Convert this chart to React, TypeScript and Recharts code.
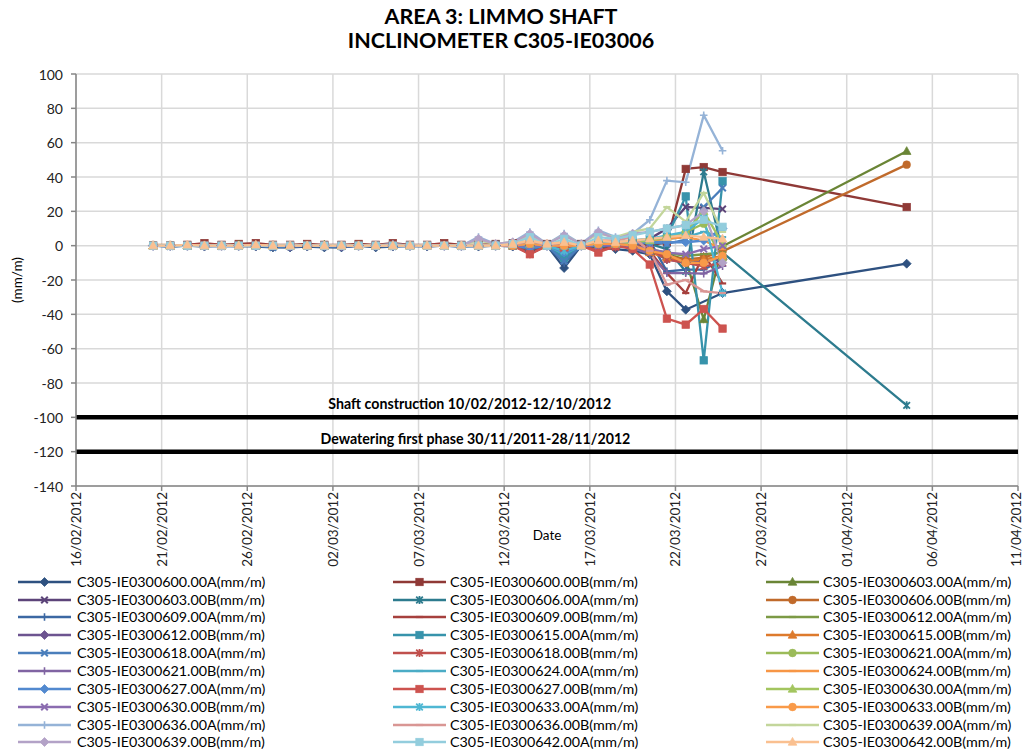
import React from 'react';
import { LineChart, Line, XAxis, YAxis, CartesianGrid, ReferenceLine } from 'recharts';

// x positions: days since 16/02/2012
const dayOffsets = [
  4.5, 5.5, 6.5, 7.5, 8.5, 9.5, 10.5, 11.5, 12.5, 13.5, 14.5, 15.5, 16.5, 17.5, 18.5, 19.5, 20.5, 21.5, 22.5, 23.5,
  24.5, 25.5, 26.5, 27.5, 28.5, 29.5, 30.5, 31.5, 32.5, 33.5, 34.5,
  35.6, 36.65, 37.75, 48.5,
];

const xTickDays = [0, 5, 10, 15, 20, 25, 30, 35, 40, 45, 50, 55];
const xTickLabels = [
  '16/02/2012', '21/02/2012', '26/02/2012', '02/03/2012', '07/03/2012', '12/03/2012',
  '17/03/2012', '22/03/2012', '27/03/2012', '01/04/2012', '06/04/2012', '11/04/2012',
];
const yTicks = [-140, -120, -100, -80, -60, -40, -20, 0, 20, 40, 60, 80, 100];

const s600A = [0, 0, 0, -0.5, 0, 0, -0.5, -1, -1, -0.5, -1, -1, 0, -1, -0.5, 0, -0.5, 0, 0, -0.5, 0, -0.5, -3, 0, -13, 0, -1, -2, -3, -5, -26.6, -37.3, null, -27.6, -10.5];
const s600B = [0, 0, 0.5, 1.5, 0.5, 1, 1.5, 0.5, 0.5, 1, 0.5, 0.5, 1, 0.5, 1.5, 0.5, 0.5, 1.5, 0.5, 0.5, 1, 1.5, 1, 1, 0, 1, 0, 1, 2, 0, 2, 44.7, 45.8, 42.9, 22.5];
const s603A = [0, 0, 0, 0, 0, 0.5, 0, 0, 0, 0, 0.5, 0, 0, 0, 0, 0, 0, 0, 0, 0, 0, 0, 1, 0, 0, 0, 1, 0, -1, -3, -5, -8, -43, -0.4, 55];
const s603B = [0, 0, 0, 0, 0, 0, 0, 0, -0.5, 0, 0, 0, 0, 0, 0, 0, 0, 0, 0, 0, 0, 0, 0, 0, -1, 0, 0, 1, 2, 4, 10, 22.5, 22, 21.3, null];
const s606A = [0, 0, 0, 0, 0, 0, 0, 0, 0, 0, 0, 0, 0, 0, 0, 0, 0, 0, 0, 0, 0, 0, -2, 0, -7, 0, -1, 0, 2, 1, -2, -15, 43, -4, -93];
const s606B = [0.5, 0.5, 0, 0.5, 0, 0, 0, 0.5, 0, 0.5, 0, 0, 0.5, 0, 0, 0, 0, 0, 0, 0.5, 0, 0.5, 1, 0.5, 0, 0.5, 1, 1, 0, -3, -6, -8, -7, -3.3, 47.2];
const s609A = [0, -0.5, 0, 0, 0, -0.5, 0, -0.5, -1, 0, -0.5, -1, 0, -0.5, 0, -0.5, 0, 0, -0.5, 0, 0, 0, -2, 0, -10, 0, 0, 1, 2, 3, -15, -14, -14, -8, null];
const s609B = [0, 0, 0.5, 1, 0.5, 0.5, 1, 0, 0, 0.5, 0, 0, 0.5, 0, 1, 0, 0.5, 1, 0, 0.5, 0, 1, -4, 0, -3, 0, -3, 0, 2, -3, -16, -27.6, -5, -22, null];
const s612A = [0, 0, 0, 0, 0, 0, 0, 0, 0, 0, 0, 0, 0, 0, 0, 0, 0, 0, 0, 0, 0, 0, 0.5, 0, -2, 0, 0, 1, 0, -2, -4, -6, -5, -4, null];
const s612B = [0, 0, 0, 0, 0, 0, 0, 0, -0.5, 0, 0, -0.5, 0, 0, 0, 0, 0, 0, 0, 0, 0, 0, 0, 0, -2, 0, 0, 0, -1, -3, -8, -10, -9, -8, null];
const s615A = [0, 0, 0, 0, 0, 0, 0, 0, 0, 0, 0, 0, 0, 0, 0, 0, 0, 0, 0, 0, 0.5, 0, -1, 0.5, -7, 0.5, 1, 1, 3, 4, 5, 28.7, -66.8, 37.5, null];
const s615B = [0, 0, 0, 0, 0, 0, 0, 0, 0, 0, 0, 0, 0, 0, 0, 0, 0, 0, 0, 0, 0, 0, 0.5, 0, -1, 0, 0, 1, 0, -4, -7, -9, -8, -6, null];
const s618A = [0, -0.5, 0, 0, -0.5, 0, 0, -1, -0.5, 0, -0.5, -0.5, 0, 0, -0.5, 0, 0, 0, -0.5, 0, 0, 0, -2, 0, -9, 0, 0, 0, 1, 2, 1, 3.5, 22.5, 33.6, null];
const s618B = [0, 0, 0, 0.5, 0, 0, 0.5, 0, 0, 0, 0, 0, 0, 0, 0.5, 0, 0, 0.5, 0, 0, 0, 0.5, -5, 0, -2, 0, -3, -1, 0, -2, -8, -10, -12, -10, null];
const s621A = [0, 0, 0, 0, 0, 0, 0, 0, 0, 0, 0, 0, 0, 0, 0, 0, 0, 0, 0, 0.5, 0, 0, 1, 0, 0, 0, 1, 1, 2, 3, 5, 8, 12.8, -8, null];
const s621B = [0, 0, 0, 0, 0, 0, 0, 0, 0, 0, 0, 0, 0, 0, 0, 0, 0, 0, 0, 0, 0, 0, 0, 0, -1, 0, 0, 0, -1, -5, -16, -16, -16.3, -12, null];
const s624A = [0, 0, 0, 0, 0, 0, 0, 0, 0, 0, 0, 0, 0, 0, 0, 0, 0, 0, 0, 0, 0, 0, -1, 0, -5, 0, 0, 1, 2, 3, 4, 5, 8, 5, null];
const s624B = [0, 0, 0, 0, 0, 0, 0, 0, 0, 0, 0, 0, 0, 0, 0, 0, 0, 0, 0, 0, 0, 0, 1, 0, 0, 0, 1, 1, 2, 3, 4, 5, 3, -2, null];
const s627A = [0, 0, 0, 0, 0, 0, 0, 0, 0, 0, 0, 0, 0, 0, 0, 0, 0, 0, 0, 0, 0, 0, -1, 0, -4, 0, 0, 1, 2, 2, 2, 2, 3, 10, null];
const s627B = [0, 0, 0, 0, 0, 0, 0, 0, 0, 0, 0, 0, 0, 0, 0, 0, 0, 0, 0, 0, 0, 0, -5, 0, -1, 0, -4, 0, -2, -11, -42.5, -46, -36.9, -48.3, null];
const s630A = [0, 0, 0, 0, 0, 0, 0, 0, 0, 0, 0, 0, 0, 0, 0, 0, 0, 0, 0, 0, 0, 0, 1, 0, 0, 0, 2, 1, 2, 3, 5, 8, 20, 1, null];
const s630B = [0, 0, 0, 0, 0, 0, 0, 0, 0, 0, 0, 0, 0, 0, 0, 0, 0, 0, 0, 0, 0, 0, 0, 0, 0, 0, 0, 1, 0, -2, -4, -5, -2, 0, null];
const s633A = [0, 0, 0, 0, 0, 0, 0, 0, 0, 0, 0, 0, 0, 0, 0, 0, 0, 0, 0, 0, 0, 0, 1, 0, -3, 0, 1, 2, 3, 4, 6, 8, 16, -27.6, null];
const s633B = [0, 0, 0, 0, 0, 0, 0, 0, 0, 0, 0, 0, 0, 0, 0, 0, 0, 0, 0, 0, 0, 0, 1, 0, 0, 0, 1, 1, 0, -3, -5, -10, -10, -6, null];
const s636A = [0, 0, 0, 0, 0, 0, 0, 0, 0, 0, 0, 0, 0.5, 0, 1, 0, 0, 0, 0, 5, 1, 2, 8, 1, 7, 1, 9, 5, 7, 15, 37.9, 36.9, 76, 55.3, null];
const s636B = [0, 0, 0, 0, 0, 0, 0, 0, 0, 0, 0, 0, 0, 0, 0, 0, 0, 0, 0, 0, 0, 0, 3, 0, 2, 0, 3, 3, 5, -3, -22.7, -20, -26.6, -27.6, null];
const s639A = [0, 0, 0, 0, 0, 0, 0, 0, 0, 0, 0, 0, 0, 0, 0, 0, 0, 0, 0, 3, 1, 2, 6, 1, 6, 1, 7, 5, 8, 10, 22.5, 14, 30.7, 8, null];
const s639B = [0, 0, 0, 0, 0, 0, 0, 0, 0, 0, 0, 0, 0, 0, 0, 0, 0, 0, 0, 4, 1, 2, 7, 1, 6, 1, 8, 4, 7, 8, 10, 12, 20, -10, null];
const s642A = [0, 0, 0, 0, 0, 0, 0, 0, 0, 0, 0, 0, 0, 0, 0, 0, 0, 0, 0, 0, 0, 1, 5, 0, 4, 0, 5, 4, 6, 8, 10, 12, 15, 11, null];
const s642B = [0, 0, 0.5, 0, 0, 0, 0.5, 0, 0, 0, 0, 0, 0, 0, 0, 0, 0, 0, 0, 0, 0, 1, 3, 1, 2, 0, 3, 2, 3, 4, 5, 6, 5, 4, null];

const seriesValues = [
  s600A, s600B, s603A, s603B, s606A, s606B, s609A, s609B, s612A, s612B,
  s615A, s615B, s618A, s618B, s621A, s621B, s624A, s624B, s627A, s627B,
  s630A, s630B, s633A, s633B, s636A, s636B, s639A, s639B, s642A, s642B,
];

const seriesNames = [
  'C305-IE0300600.00A(mm/m)', 'C305-IE0300600.00B(mm/m)', 'C305-IE0300603.00A(mm/m)',
  'C305-IE0300603.00B(mm/m)', 'C305-IE0300606.00A(mm/m)', 'C305-IE0300606.00B(mm/m)',
  'C305-IE0300609.00A(mm/m)', 'C305-IE0300609.00B(mm/m)', 'C305-IE0300612.00A(mm/m)',
  'C305-IE0300612.00B(mm/m)', 'C305-IE0300615.00A(mm/m)', 'C305-IE0300615.00B(mm/m)',
  'C305-IE0300618.00A(mm/m)', 'C305-IE0300618.00B(mm/m)', 'C305-IE0300621.00A(mm/m)',
  'C305-IE0300621.00B(mm/m)', 'C305-IE0300624.00A(mm/m)', 'C305-IE0300624.00B(mm/m)',
  'C305-IE0300627.00A(mm/m)', 'C305-IE0300627.00B(mm/m)', 'C305-IE0300630.00A(mm/m)',
  'C305-IE0300630.00B(mm/m)', 'C305-IE0300633.00A(mm/m)', 'C305-IE0300633.00B(mm/m)',
  'C305-IE0300636.00A(mm/m)', 'C305-IE0300636.00B(mm/m)', 'C305-IE0300639.00A(mm/m)',
  'C305-IE0300639.00B(mm/m)', 'C305-IE0300642.00A(mm/m)', 'C305-IE0300642.00B(mm/m)',
];

const seriesColors = [
  '#2e5180', '#8f3936', '#6a8536', '#5c4479', '#2d7b8e', '#c06a2b',
  '#3c68a3', '#a6403d', '#7c9a45', '#6d5490', '#3793ab', '#dd7a2c',
  '#4a7ebb', '#c0504d', '#9bbb59', '#8064a2', '#4bacc6', '#f79646',
  '#5289cf', '#cd534f', '#a3c55f', '#8b6cb0', '#4fb7d3', '#f99a49',
  '#95b3d7', '#d99694', '#c3d69b', '#b3a2c7', '#93cddd', '#fac090',
];

const markerCycle = ['diamond', 'square', 'triangle', 'x', 'star', 'circle', 'plus', 'dash', 'dash'];

const refLines = [
  { y: -100, text: 'Shaft construction 10/02/2012-12/10/2012', frac: 0.418 },
  { y: -120, text: 'Dewatering first phase 30/11/2011-28/11/2012', frac: 0.424 },
];

const chartData = dayOffsets.map((d, i) => {
  const row: any = { day: d };
  seriesValues.forEach((arr, k) => {
    row['s' + k] = arr[i];
  });
  return row;
});

const FONT = 'Lato, "Liberation Sans", sans-serif';

function Marker({ cx, cy, shape, color }: { cx: number; cy: number; shape: string; color: string }) {
  switch (shape) {
    case 'diamond':
      return <polygon points={`${cx},${cy - 4.5} ${cx + 4.5},${cy} ${cx},${cy + 4.5} ${cx - 4.5},${cy}`} fill={color} stroke={color} strokeWidth={0.75} />;
    case 'square':
      return <rect x={cx - 3.7} y={cy - 3.7} width={7.4} height={7.4} fill={color} stroke={color} strokeWidth={0.75} />;
    case 'triangle':
      return <polygon points={`${cx},${cy - 4.6} ${cx + 4.3},${cy + 3.2} ${cx - 4.3},${cy + 3.2}`} fill={color} stroke={color} strokeWidth={0.75} />;
    case 'x':
      return <path d={`M${cx - 3.3},${cy - 3.3}L${cx + 3.3},${cy + 3.3}M${cx - 3.3},${cy + 3.3}L${cx + 3.3},${cy - 3.3}`} stroke={color} strokeWidth={2} fill="none" />;
    case 'star':
      return <path d={`M${cx - 3.3},${cy - 3.3}L${cx + 3.3},${cy + 3.3}M${cx - 3.3},${cy + 3.3}L${cx + 3.3},${cy - 3.3}M${cx},${cy - 4}L${cx},${cy + 4}`} stroke={color} strokeWidth={1.8} fill="none" />;
    case 'circle':
      return <circle cx={cx} cy={cy} r={3.9} fill={color} stroke={color} strokeWidth={0.5} />;
    case 'plus':
      return <path d={`M${cx - 3.8},${cy}L${cx + 3.8},${cy}M${cx},${cy - 3.8}L${cx},${cy + 3.8}`} stroke={color} strokeWidth={1.6} fill="none" />;
    case 'dash':
    default:
      return <rect x={cx - 3.6} y={cy - 1.1} width={7.2} height={2.2} fill={color} />;
  }
}

const makeDot = (shape: string, color: string) => (p: any) => {
  const { cx, cy, index, value } = p;
  if (cx == null || cy == null || value == null || Number.isNaN(cx) || Number.isNaN(cy)) {
    return <g key={`e${index}`} />;
  }
  return (
    <g key={`m${index}`}>
      <Marker cx={cx} cy={cy} shape={shape} color={color} />
    </g>
  );
};

const DateTick = (props: any) => {
  const { x, y, payload } = props;
  const idx = xTickDays.indexOf(payload.value);
  const label = idx >= 0 ? xTickLabels[idx] : '';
  const tx = Math.min(x, 1016);
  return (
    <text
      x={tx}
      y={y}
      transform={`rotate(-90 ${tx} ${y})`}
      textAnchor="end"
      dominantBaseline="central"
      fontSize={13.5}
      fontFamily={FONT}
      fill="#222"
    >
      {label}
    </text>
  );
};

const ValueTick = (props: any) => {
  const { x, y, payload } = props;
  return (
    <text x={x} y={y} textAnchor="end" dominantBaseline="central" fontSize={14} fontFamily={FONT} fill="#222">
      {payload.value}
    </text>
  );
};

const makeRefLabel = (text: string, frac: number) => (p: any) => {
  const vb = p.viewBox || {};
  const x = (vb.x || 0) + (vb.width || 0) * frac;
  const y = (vb.y || 0) - 8;
  return (
    <text x={x} y={y} textAnchor="middle" fontSize={14.2} fontWeight="bold" fontFamily={FONT} fill="#000">
      {text}
    </text>
  );
};

const legendCols = [
  { lineX: 18, textX: 77 },
  { lineX: 393, textX: 450 },
  { lineX: 766, textX: 823 },
];

function LegendBlock() {
  return (
    <>
      {seriesNames.map((name, k) => {
        const col = legendCols[k % 3];
        const row = Math.floor(k / 3);
        const cy = 581.7 + 17.85 * row;
        const color = seriesColors[k];
        const shape = markerCycle[k % markerCycle.length];
        return (
          <div
            key={name}
            style={{
              position: 'absolute',
              left: col.lineX,
              top: cy - 9,
              height: 18,
              display: 'flex',
              alignItems: 'center',
              whiteSpace: 'nowrap',
            }}
          >
            <svg width={53} height={18} style={{ display: 'block' }}>
              <line x1={0} y1={9} x2={53} y2={9} stroke={color} strokeWidth={2.5} />
              <Marker cx={26.5} cy={9} shape={shape} color={color} />
            </svg>
            <span style={{ marginLeft: col.textX - col.lineX - 53, fontSize: 14.3, fontFamily: FONT, color: '#000', lineHeight: '18px' }}>
              {name}
            </span>
          </div>
        );
      })}
    </>
  );
}

export default function App() {
  return (
    <div style={{ position: 'absolute', left: 0, top: 0, width: 1024, height: 751, background: '#fff', overflow: 'hidden' }}>
      <div
        style={{
          position: 'absolute',
          left: 0,
          top: 4,
          width: 1002,
          textAlign: 'center',
          fontFamily: FONT,
          fontWeight: 'bold',
          fontSize: 21.5,
          lineHeight: '24px',
          color: '#000',
        }}
      >
        <div>AREA 3: LIMMO SHAFT</div>
        <div>INCLINOMETER C305-IE03006</div>
      </div>
      <LineChart width={1024} height={751} data={chartData} margin={{ top: 74, right: 6, bottom: 185, left: 0 }}>
        <CartesianGrid stroke="#d9d9d9" strokeWidth={1.5} />
        <XAxis
          type="number"
          dataKey="day"
          domain={[0, 55]}
          ticks={xTickDays}
          interval={0}
          allowDataOverflow
          height={80}
          stroke="#868686"
          strokeWidth={1.5}
          tickSize={5}
          tickMargin={1}
          tick={<DateTick />}
          label={{
            content: (p: any) => {
              const vb = p.viewBox || {};
              return (
                <text x={(vb.x || 0) + (vb.width || 0) / 2} y={(vb.y || 0) + 49} textAnchor="middle" dominantBaseline="central" fontSize={13.5} fontFamily={FONT} fill="#000">
                  Date
                </text>
              );
            },
          }}
        />
        <YAxis
          type="number"
          domain={[-140, 100]}
          ticks={yTicks}
          interval={0}
          allowDataOverflow
          width={76}
          stroke="#868686"
          strokeWidth={1.5}
          tickSize={5}
          tickMargin={8}
          tick={<ValueTick />}
          label={{
            content: (p: any) => {
              const vb = p.viewBox || {};
              const cy = (vb.y || 0) + (vb.height || 0) / 2;
              return (
                <text x={17} y={cy} transform={`rotate(-90 17 ${cy})`} textAnchor="middle" dominantBaseline="central" fontSize={13.5} fontFamily={FONT} fill="#000">
                  (mm/m)
                </text>
              );
            },
          }}
        />
        {refLines.map((r) => (
          <ReferenceLine key={r.y} y={r.y} stroke="#000" strokeWidth={4.5} label={makeRefLabel(r.text, r.frac)} />
        ))}
        {seriesNames.map((name, k) => (
          <Line
            key={name}
            type="linear"
            dataKey={'s' + k}
            name={name}
            stroke={seriesColors[k]}
            strokeWidth={2.3}
            connectNulls
            isAnimationActive={false}
            activeDot={false}
            dot={makeDot(markerCycle[k % markerCycle.length], seriesColors[k])}
          />
        ))}
      </LineChart>
      <LegendBlock />
    </div>
  );
}
